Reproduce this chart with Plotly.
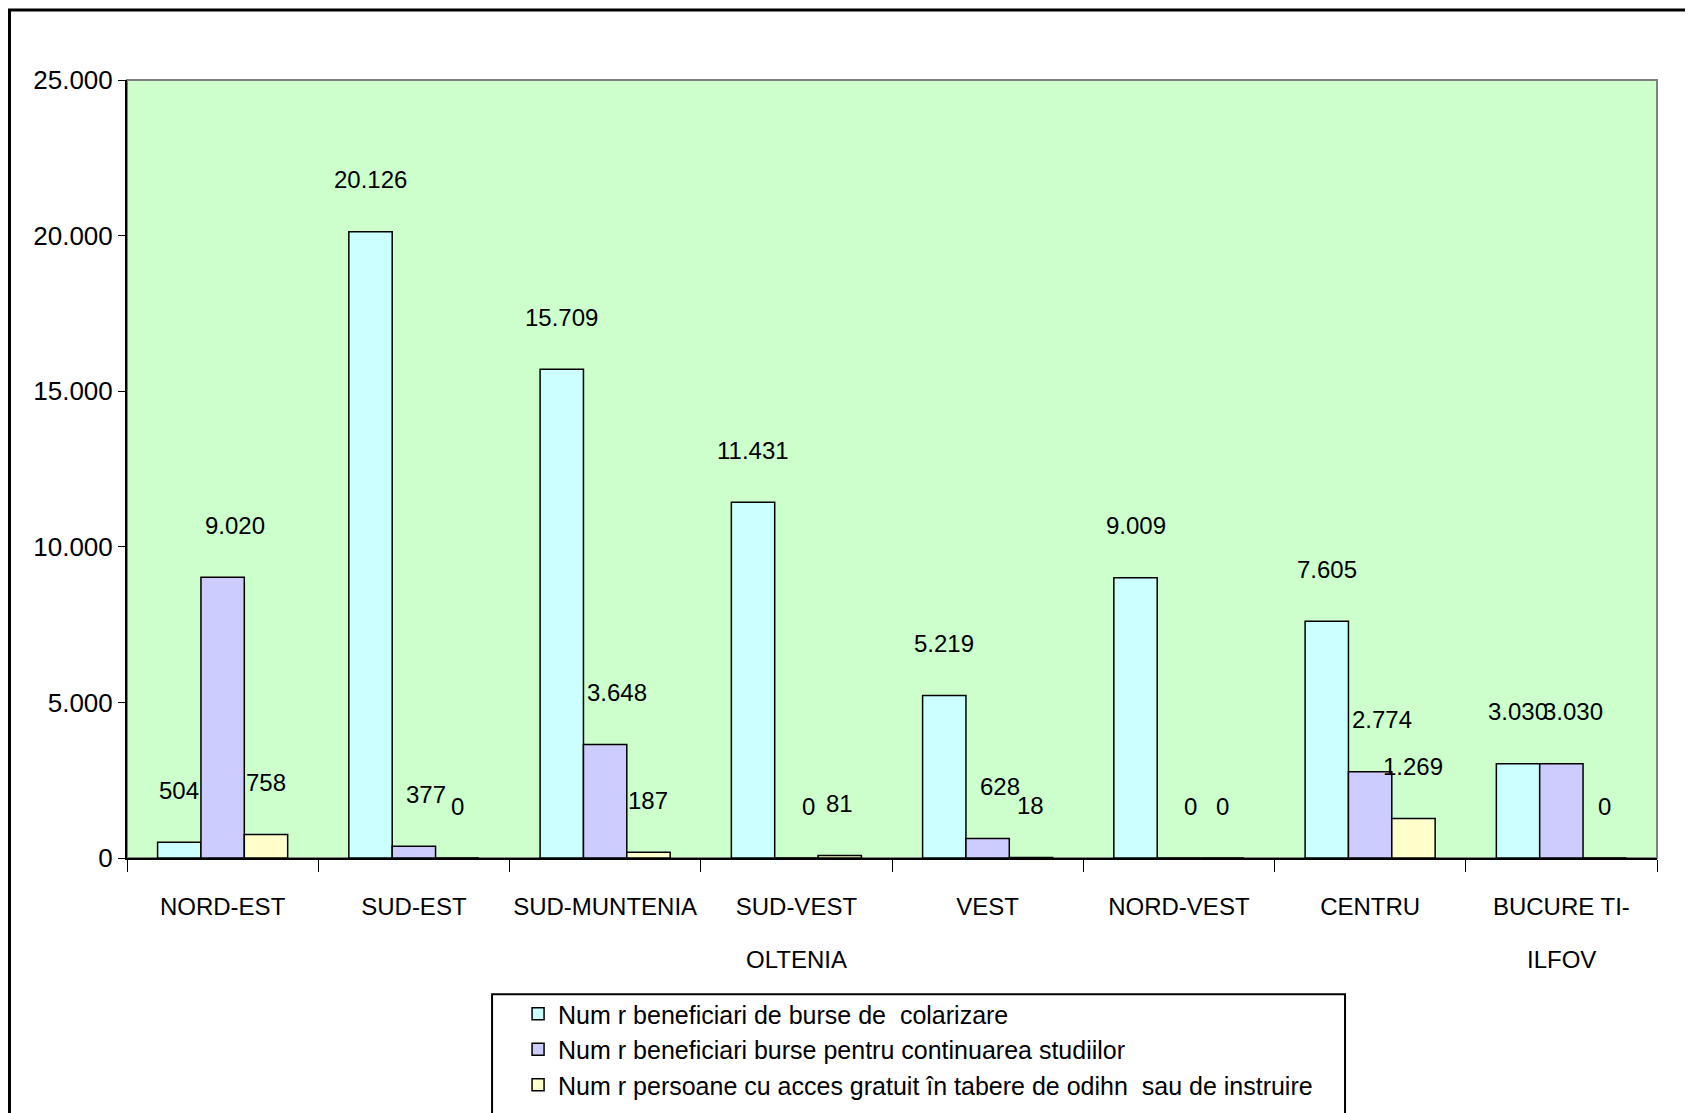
import plotly.graph_objects as go

REGIUNI = ["NORD-EST", "SUD-EST", "SUD-MUNTENIA", "SUD-VEST<br>OLTENIA", "VEST",
           "NORD-VEST", "CENTRU", "BUCURE TI-<br>ILFOV"]

BURSE_SCOLARIZARE = [504, 20126, 15709, 11431, 5219, 9009, 7605, 3030]
BURSE_CONTINUARE = [9020, 377, 3648, 0, 628, 0, 2774, 3030]
TABERE = [758, 0, 187, 81, 18, 0, 1269, 0]

SERII = [
    ("Num r beneficiari de burse de  colarizare", BURSE_SCOLARIZARE, "#CCFFFF"),
    ("Num r beneficiari burse pentru continuarea studiilor", BURSE_CONTINUARE, "#CCCCFF"),
    ("Num r persoane cu acces gratuit în tabere de odihn  sau de instruire", TABERE, "#FFFFCC"),
]

FONT = "Liberation Sans Narrow, Arial Narrow, Liberation Sans, Arial"
BARGAP = 0.32
# deplasare orizontala a etichetelor pe serie (Excel le impinge spre dreapta)
XSHIFT_ETICHETE = [0, 12, 0]

# prima linie a etichetei merge pe axa, a doua linie ca adnotare (spatiere mai mare)
linii = [r.split("<br>") for r in REGIUNI]
prima_linie = [l[0] for l in linii]

fig = go.Figure()
for nume, valori, culoare in SERII:
    fig.add_trace(go.Bar(
        x=prima_linie, y=valori, name=nume,
        marker=dict(color=culoare, line=dict(color="black", width=1.5)),
    ))

# etichete de date deasupra barelor, la distanta de bara
latime = (1 - BARGAP) / len(SERII)
for i, (nume, valori, culoare) in enumerate(SERII):
    for j, v in enumerate(valori):
        fig.add_annotation(
            x=j + (i - 1) * latime, y=v, xref="x", yref="y",
            text=f"{v:,}".replace(",", "."), showarrow=False,
            yanchor="middle", yshift=52, xshift=XSHIFT_ETICHETE[i],
            font=dict(family=FONT, size=24, color="black"),
        )

for j, l in enumerate(linii):
    if len(l) > 1:
        fig.add_annotation(
            x=j, y=0, xref="x", yref="paper", text=l[1], showarrow=False,
            yanchor="middle", yshift=-101,
            font=dict(family=FONT, size=24, color="black"),
        )

fig.update_layout(
    width=1685, height=1105,
    margin=dict(l=119, r=36, t=72, b=255),
    paper_bgcolor="white", plot_bgcolor="#CCFFCC",
    barmode="group", bargap=BARGAP, bargroupgap=0,
    separators=",.",
    font=dict(family=FONT, size=26, color="black"),
    showlegend=True,
    legend=dict(
        x=0.2556, xref="paper", y=0.1104, yref="container",
        xanchor="left", yanchor="top",
        borderwidth=0, bgcolor="rgba(0,0,0,0)",
        font=dict(family=FONT, size=25), tracegroupgap=0,
        itemwidth=30,
    ),
    xaxis=dict(
        type="category", tickangle=0, automargin=False,
        tickfont=dict(size=24), ticklabelstandoff=26,
        showline=True, linecolor="black", linewidth=2,
        ticks="outside", tickson="boundaries", ticklen=12, tickcolor="black",
        showgrid=False, zeroline=False,
    ),
    yaxis=dict(
        range=[0, 25000], dtick=5000, tickformat=",d", automargin=False,
        showline=True, linecolor="black", linewidth=2,
        ticks="outside", ticklen=7, tickcolor="black",
        showgrid=False, zeroline=False,
    ),
)

# chenarul zonei de grafic (gri), chenarul legendei si chenarul exterior (negru)
fig.add_shape(type="rect", xref="paper", yref="paper", x0=0, x1=1, y0=0, y1=1,
              line=dict(color="#808080", width=2), layer="below")
fig.add_shape(type="rect", xref="paper", yref="paper", x0=0.2386, x1=0.7961, y0=-0.35, y1=-0.175,
              line=dict(color="black", width=2))
fig.add_shape(type="rect", xref="paper", yref="paper", x0=-0.0768, x1=1.03, y0=-0.34, y1=1.09,
              line=dict(color="black", width=3))

fig.write_html("out.html")
